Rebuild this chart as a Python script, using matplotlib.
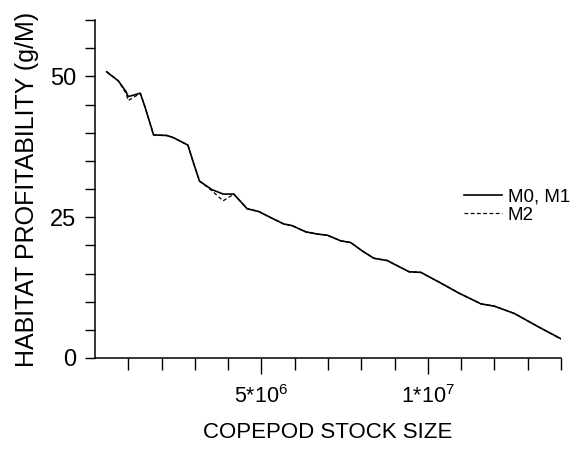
import numpy as np
import matplotlib
matplotlib.use('Agg')
import matplotlib.pyplot as plt
from matplotlib.ticker import MultipleLocator, FixedLocator

plt.rcParams['font.family'] = ['Liberation Sans', 'DejaVu Sans']
plt.rcParams['mathtext.default'] = 'regular'

# copepod stock size and habitat profitability (g/M)
stock = [0.35e6, 0.70e6, 0.93e6, 1.00e6, 1.36e6, 1.50e6, 1.76e6, 2.16e6, 2.36e6,
         2.79e6, 2.96e6, 3.14e6, 3.51e6, 3.85e6, 4.17e6, 4.57e6, 4.92e6, 5.32e6,
         5.67e6, 5.92e6, 6.33e6, 6.68e6, 6.98e6, 7.38e6, 7.68e6, 8.03e6, 8.38e6,
         8.78e6, 9.14e6, 9.44e6, 9.79e6, 10.39e6, 10.94e6, 11.60e6, 12.0e6,
         12.6e6, 13.3e6, 14.0e6]
prof_m0m1 = [50.8, 49.2, 47.3, 46.4, 47.0, 44.6, 39.6, 39.5, 39.1,
             37.8, 34.6, 31.4, 29.9, 29.1, 29.1, 26.5, 26.0, 24.8,
             23.8, 23.5, 22.4, 22.0, 21.8, 20.8, 20.5, 19.0, 17.7,
             17.3, 16.2, 15.3, 15.2, 13.3, 11.5, 9.6, 9.2,
             7.9, 5.6, 3.4]
prof_m2 = [50.8, 49.2, 47.0, 45.7, 47.0, 44.6, 39.6, 39.5, 39.1,
           37.8, 34.6, 31.4, 29.7, 27.9, 29.1, 26.5, 26.0, 24.8,
           23.8, 23.5, 22.4, 22.0, 21.8, 20.8, 20.5, 19.0, 17.7,
           17.3, 16.2, 15.3, 15.2, 13.3, 11.5, 9.6, 9.2,
           7.9, 5.6, 3.4]

yticks = [0, 25, 50]
xticks = [5e6, 1e7]
xticklabels = ['5*10$^{6}$', '1*10$^{7}$']

fig = plt.figure(figsize=(5.72, 4.51), dpi=100)
ax = fig.add_axes([95/572, 1-358/451, (561-95)/572, (358-20)/451])

ax.plot(stock, prof_m2, color='black', lw=0.9, ls=(0, (3, 2)), label='M2')
ax.plot(stock, prof_m0m1, color='black', lw=1.2, label='M0, M1')

ax.set_xlim(0, 1.4e7)
ax.set_ylim(0, 60)
for s in ['top', 'right']:
    ax.spines[s].set_visible(False)
for s in ['left', 'bottom']:
    ax.spines[s].set_linewidth(1.1)

ax.yaxis.set_major_locator(FixedLocator(yticks))
ax.yaxis.set_minor_locator(MultipleLocator(5))
ax.set_xticks(xticks)
ax.set_xticklabels(xticklabels)
ax.xaxis.set_minor_locator(FixedLocator(np.arange(1e6, 1.41e7, 1e6)))

ax.tick_params(axis='y', which='both', direction='out', length=7.5, width=1.0,
               labelsize=17, pad=6)
ax.tick_params(axis='x', which='minor', direction='out', length=8.5, width=1.0)
ax.tick_params(axis='x', which='major', direction='out', length=11.5, width=1.0,
               labelsize=15.5, pad=8)

ax.set_xlabel('COPEPOD STOCK SIZE', fontsize=16, labelpad=10)
ax.set_ylabel('HABITAT PROFITABILITY (g/M)', fontsize=18, labelpad=8)

handles, labels = ax.get_legend_handles_labels()
fig.legend(handles[::-1], labels[::-1], loc='center left',
           bbox_to_anchor=(455/572, 1-206/451), frameon=False, fontsize=13.5,
           handlelength=2.0, handletextpad=0.3, labelspacing=0.05,
           borderpad=0)

fig.savefig('out.png', dpi=100)
